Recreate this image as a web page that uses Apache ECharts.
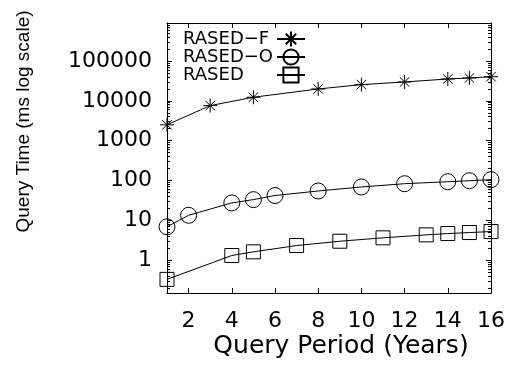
<!DOCTYPE html>
<html>
<head>
<meta charset="utf-8">
<script src="https://cdn.jsdelivr.net/npm/echarts@6/dist/echarts.min.js"></script>
<style>
  html, body { margin: 0; padding: 0; background: #fff; }
  #chart { width: 511px; height: 369px; }
</style>
</head>
<body>
<div id="chart"></div>
<script>
// Query time (ms, log scale) against query period (years) for three variants
const seriesNames = ['RASED\u2212F', 'RASED\u2212O', 'RASED'];

const yearsF = [1, 3, 5, 8, 10, 12, 14, 15, 16];
const timeF = [2500, 7600, 12300, 19900, 25500, 29800, 35400, 37500, 40400];

const yearsO = [1, 2, 4, 5, 6, 8, 10, 12, 14, 15, 16];
const timeO = [6.9, 13.4, 27.4, 33.1, 42, 54.6, 68.8, 83.2, 93.4, 98.9, 105];

const yearsR = [1, 4, 5, 7, 9, 11, 13, 14, 15, 16];
const timeR = [0.33, 1.31, 1.62, 2.33, 2.99, 3.64, 4.32, 4.66, 4.94, 5.23];

const xTicks = [2, 4, 6, 8, 10, 12, 14, 16];
const yTicks = [1, 10, 100, 1000, 10000, 100000];
const xMin = 1, xMax = 16;
const yMin = 0.15, yMax = 900000;

// minor ticks at 2..9 within each decade
const yMinorTicks = [];
[0.1].concat(yTicks).forEach(function (d) {
  for (let m = 2; m <= 9; m++) {
    const v = +(d * m).toPrecision(3);
    if (v >= yMin && v <= yMax) yMinorTicks.push(v);
  }
});

const FONT = '"DejaVu Sans", sans-serif';
const TITLE_FONT = '"Liberation Sans", Arial, sans-serif';
const BLACK = '#000';
const asterisk = 'path://M5,0L5,10M0,5L10,5M1.6,1.6L8.4,8.4M8.4,1.6L1.6,8.4';

function pairs(xs, ys) { return xs.map(function (x, i) { return [x, ys[i]]; }); }

const axisLine = { show: true, lineStyle: { color: BLACK, width: 1 } };

function xAxisDef(pos, withLabels) {
  return {
    type: 'value', min: xMin, max: xMax, position: pos,
    axisLine: axisLine,
    axisTick: { show: true, inside: true, length: 5, customValues: xTicks, lineStyle: { color: BLACK, width: 1 } },
    axisLabel: withLabels
      ? { show: true, customValues: xTicks, fontFamily: FONT, fontSize: 22, color: BLACK, margin: 17 }
      : { show: false },
    splitLine: { show: false }
  };
}

function yAxisDef(pos, ticks, len, withLine, withLabels) {
  return {
    type: 'log', logBase: 10, min: yMin, max: yMax, position: pos,
    axisLine: withLine ? axisLine : { show: false },
    axisTick: { show: true, inside: true, length: len, customValues: ticks, lineStyle: { color: BLACK, width: 1 } },
    axisLabel: withLabels
      ? { show: true, customValues: yTicks, fontFamily: FONT, fontSize: 22, color: BLACK, margin: 15,
          formatter: function (v) { return String(v); } }
      : { show: false },
    splitLine: { show: false },
    minorTick: { show: false }
  };
}

function lineSeries(name, data, symbol, size, fill) {
  return {
    name: name, type: 'line', xAxisIndex: 0, yAxisIndex: 0,
    data: data, symbol: symbol, symbolSize: size,
    lineStyle: { color: BLACK, width: 1 },
    itemStyle: { color: fill, borderColor: BLACK, borderWidth: 1 },
    emphasis: { disabled: true }
  };
}

const chart = echarts.init(document.getElementById('chart'), null, { renderer: 'canvas' });
chart.setOption({
  animation: false,
  backgroundColor: '#fff',
  grid: { left: 167, right: 20, top: 23, bottom: 76, containLabel: false },
  xAxis: [xAxisDef('bottom', true), xAxisDef('top', false)],
  yAxis: [
    yAxisDef('left', yTicks, 5, true, true),
    yAxisDef('right', yTicks, 5, true, false),
    yAxisDef('left', yMinorTicks, 3, false, false),
    yAxisDef('right', yMinorTicks, 3, false, false)
  ],
  legend: {
    data: seriesNames,
    orient: 'vertical',
    left: 183, top: 30,
    padding: 0,
    itemGap: 0,
    itemWidth: 28, itemHeight: 19,
    align: 'right',
    selectedMode: false,
    formatter: function (name) { return '{n|' + name + '}'; },
    textStyle: {
      color: BLACK, fontFamily: FONT, fontSize: 18,
      rich: { n: { width: 89, align: 'left', fontFamily: FONT, fontSize: 18, color: BLACK } }
    }
  },
  series: [
    lineSeries(seriesNames[0], pairs(yearsF, timeF), asterisk, 14, BLACK),
    lineSeries(seriesNames[1], pairs(yearsO, timeO), 'circle', 16, 'rgba(0,0,0,0)'),
    lineSeries(seriesNames[2], pairs(yearsR, timeR), 'rect', 14, 'rgba(0,0,0,0)')
  ],
  graphic: [
    {
      type: 'text', x: 341, y: 346, silent: true,
      style: { text: 'Query Period (Years)', font: '25px ' + FONT, fill: BLACK, align: 'center', verticalAlign: 'middle' }
    },
    {
      type: 'text', x: 23.5, y: 121.5, rotation: Math.PI / 2, silent: true,
      style: { text: 'Query Time (ms log scale)', font: '19px ' + TITLE_FONT, fill: BLACK, align: 'center', verticalAlign: 'middle' }
    }
  ]
});
</script>
</body>
</html>
